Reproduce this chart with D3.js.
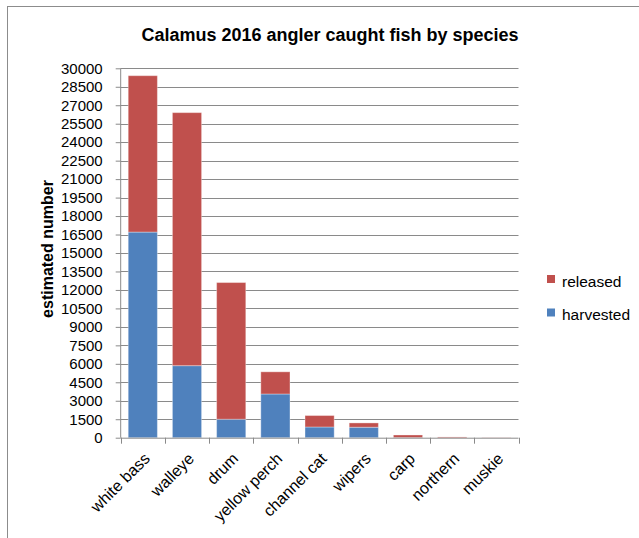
<!DOCTYPE html>
<html>
<head>
<meta charset="utf-8">
<script src="https://cdn.jsdelivr.net/npm/d3@7/dist/d3.min.js"></script>
<style>
  html, body { margin: 0; padding: 0; background: #fff; }
  svg { display: block; font-family: "Liberation Sans", Arial, sans-serif; }
</style>
</head>
<body>
<svg id="chart" width="639" height="538"></svg>
<script>
// Calamus 2016 angler catch, by species
const categories = ["white bass", "walleye", "drum", "yellow perch", "channel cat", "wipers", "carp", "northern", "muskie"];
const harvested = [16700, 5850, 1500, 3550, 870, 850, 10, 0, 0];
const released  = [12700, 20550, 11100, 1800, 930, 350, 210, 60, 15];
const seriesNames = ["harvested", "released"];
const seriesColors = ["#4F81BD", "#C0504D"];
const yTicks = d3.range(0, 30001, 1500);

const svg = d3.select("#chart");
const W = 639, H = 538;
const plot = { left: 120.7, right: 518.5, top: 68.3, bottom: 437.7 };

// outer chart frame
svg.append("rect")
  .attr("x", 7.5).attr("y", 6.5)
  .attr("width", W + 10).attr("height", H + 10)
  .attr("fill", "#fff").attr("stroke", "#8c8c8c").attr("stroke-width", 1);

const x = d3.scaleBand().domain(categories).range([plot.left, plot.right]).paddingInner(0.34).paddingOuter(0.17);
const y = d3.scaleLinear().domain([0, 30000]).range([plot.bottom, plot.top]);

// horizontal gridlines
svg.append("g").selectAll("line").data(yTicks.filter(d => d > 0)).join("line")
  .attr("x1", plot.left).attr("x2", plot.right)
  .attr("y1", d => Math.round(y(d)) + 0.5).attr("y2", d => Math.round(y(d)) + 0.5)
  .attr("stroke", "#8a8a8a").attr("stroke-width", 1);

// stacked bars
const rows = categories.map((c, i) => ({ cat: c, harvested: harvested[i], released: released[i] }));
const stack = d3.stack().keys(seriesNames)(rows);
svg.append("g").selectAll("g").data(stack).join("g")
  .attr("fill", (d, i) => seriesColors[i])
  .selectAll("rect").data(d => d).join("rect")
  .attr("x", d => x(d.data.cat))
  .attr("width", x.bandwidth())
  .attr("y", d => y(d[1]))
  .attr("height", d => Math.max(0, y(d[0]) - y(d[1])))
  .attr("stroke", "rgba(255,255,255,0.35)")
  .attr("stroke-width", 1);

// y axis
const yAxis = d3.axisLeft(y).tickValues(yTicks).tickSize(5).tickPadding(13).tickFormat(d3.format("d"));
const gy = svg.append("g").attr("transform", `translate(${plot.left},0)`).call(yAxis);
gy.select(".domain").attr("stroke", "#8a8a8a").attr("d", `M0,${plot.top}V${plot.bottom}`);
gy.selectAll(".tick line").attr("stroke", "#8a8a8a");
gy.selectAll(".tick text").attr("font-size", 15).attr("fill", "#000")
  .attr("font-family", "Liberation Sans, Arial, sans-serif");

// x axis: ticks sit on category boundaries
const step = x.step();
const bounds = d3.range(categories.length + 1).map(i => plot.left + i * step);
const gx = svg.append("g");
gx.append("line").attr("x1", plot.left).attr("x2", plot.right)
  .attr("y1", plot.bottom + 0.5).attr("y2", plot.bottom + 0.5).attr("stroke", "#8a8a8a");
gx.selectAll("line.tk").data(bounds).join("line").attr("class", "tk")
  .attr("x1", d => Math.round(d) + 0.5).attr("x2", d => Math.round(d) + 0.5)
  .attr("y1", plot.bottom).attr("y2", plot.bottom + 6).attr("stroke", "#8a8a8a");
gx.selectAll("text").data(categories).join("text")
  .attr("transform", d => `translate(${x(d) + x.bandwidth() / 2 + 8},${plot.bottom + 22}) rotate(-45)`)
  .attr("text-anchor", "end")
  .attr("font-size", 16).attr("fill", "#000")
  .text(d => d);

// title
svg.append("text").attr("x", 330).attr("y", 41).attr("text-anchor", "middle")
  .attr("font-size", 18).attr("font-weight", "bold").attr("fill", "#000")
  .text("Calamus 2016 angler caught fish by species");

// y axis title
svg.append("text").attr("transform", "translate(53,249) rotate(-90)")
  .attr("text-anchor", "middle").attr("font-size", 16).attr("font-weight", "bold").attr("fill", "#000")
  .text("estimated number");

// legend
const legendOrder = [1, 0];
const lg = svg.append("g").selectAll("g").data(legendOrder).join("g")
  .attr("transform", (d, i) => `translate(547,${275 + i * 33.5})`);
lg.append("rect").attr("width", 8).attr("height", 8).attr("fill", d => seriesColors[d]);
lg.append("text").attr("x", 15).attr("y", 11.5).attr("font-size", 15.5).attr("fill", "#000")
  .text(d => seriesNames[d]);
</script>
</body>
</html>
